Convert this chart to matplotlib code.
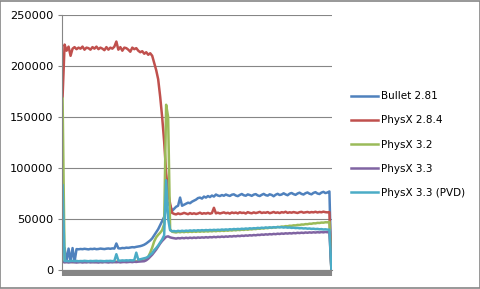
import numpy as np
import matplotlib
matplotlib.use("Agg")
import matplotlib.pyplot as plt
from matplotlib.patches import Rectangle

# frame-time samples per engine
bullet = ([20000,
           21500, 8000, 21000, 8500, 21500, 8000, 20500,
           20300, 20600, 20400, 20800, 20500, 20200, 20700, 20500, 20900, 20400,
           20600, 21000, 20700, 20500, 20900, 21100, 20800, 21200, 21000,
           26000,
           21300, 21100, 21600, 21400, 21900, 21700, 22100, 22400, 22200, 22700, 23000,
           23400, 24000, 24800, 26000, 27500, 29000, 31000, 34000, 37000, 40000, 44000, 48000, 52000,
           60000, 66000, 63000, 58000, 60000, 62000, 63000, 71000, 63000, 64000, 65000, 66000,
           65500, 67000, 68000, 69000, 70500, 71000, 70000, 72000, 71000, 72500, 71500, 73000, 72000, 74000, 73000,
           72500, 73500, 72800, 74000, 73200, 72600, 73800, 74200, 73000, 72400,
           73600, 74500, 73300, 72800, 74100, 73500, 72700, 73900, 74400, 73100,
           72500, 73700, 74600, 73400, 72900, 74200, 73600, 72300, 73800, 74700,
           73500, 74000, 75200, 74100, 73300, 74800, 75500, 74400, 73700, 75000,
           75800, 74600, 74000, 75300, 76000, 74800, 74200, 75600, 76300, 75000,
           74500, 75900, 76600, 75400, 76000, 77000,
           0])

physx284 = ([170000,
             221000, 215000, 219000, 210000, 217000, 218500, 216500, 218000, 217000, 219000,
             216000, 218000, 217500, 216000, 218500, 217000, 219000, 216500, 218000, 217000,
             215500, 218500, 216000, 218000, 217000, 219000, 224000, 216000, 218500, 215000,
             218000, 217500, 216000, 214000, 218000, 216500, 217500, 215000, 213500, 214500,
             212000, 213500, 211000, 212500,
             210000, 203000, 196000, 187000, 170000, 150000, 126000, 95000, 76000, 65000, 56000,
             55000, 54500, 55500, 54800, 55200, 56000, 55300, 54700, 55800, 55000,
             55600, 54900, 55400, 56200, 55100, 55700, 55300, 56000, 55200, 55800,
             61000, 55500, 56200, 55400, 55900, 56500, 55600, 56100, 55300, 56400,
             55800, 56300, 55500, 56600, 55900, 56200, 55400, 56700, 56000, 55600,
             56500, 55800, 56300, 57000, 55900, 56400, 56100, 56800, 55700, 56200,
             56900, 56000, 56500, 55800, 56700, 56300, 57100, 56000, 56600, 56200,
             56800, 56400, 55900, 56700, 57000, 56200, 56600, 56900, 56300, 56800,
             56500, 57100, 56400, 56900, 56600, 57200, 56700, 56500, 56800,
             0])

physx32 = ([168000,
            7800, 8100, 7900, 8200, 7700, 8000, 8300, 7900, 8100, 7800,
            8200, 7900, 8000, 8300, 7800, 8100, 7900, 8200, 8000, 7800,
            8100, 8300, 7900, 8000, 8200, 7800, 8100, 8400, 7900, 8200,
            8000, 8300, 8100, 8500, 8200, 8600, 8400, 8800, 9000, 9200,
            9500, 10500, 13000, 17000, 22000, 28000, 32000, 34500, 36500, 39000,
            45000, 162000, 150000, 40000, 37500,
            37200, 36800, 37400, 37000, 37500, 37100, 37600, 37200, 37700, 37300,
            37800, 37400, 37900, 37500, 38000, 37600, 38100, 37700, 38200, 37900,
            38400, 38000, 38500, 38200, 38700, 38300, 38800, 38500, 39000, 38700,
            39200, 38900, 39400, 39100, 39600, 39300, 39800, 39500, 40000, 39800,
            40300, 40100, 40600, 40400, 40900, 40700, 41200, 41000, 41500, 41300,
            41800, 41700, 42200, 42100, 42600, 42500, 43000, 42900, 43400, 43300,
            43800, 43700, 44200, 44100, 44600, 44500, 45000, 44900, 45400, 45300,
            45800, 45700, 46200, 46100, 46500, 46400, 46800, 46700, 47200,
            0])

physx33 = ([8000,
            7500, 7700, 7400, 7600, 7800, 7500, 7300, 7600, 7700, 7400,
            7600, 7500, 7800, 7400, 7700, 7500, 7600, 7300, 7700, 7500,
            7800, 7600, 7400, 7700, 7500, 7900, 7600, 7800, 7500, 7700,
            7900, 7600, 7800, 8000, 7700, 8100, 7900, 8200, 8300, 8400,
            8600, 9500, 11000, 13000, 15000, 17500, 20000, 23000, 26000, 28500,
            30500, 32500, 33000, 32000, 31500,
            31200, 30800, 31300, 31000, 31500, 31100, 31600, 31200, 31700, 31300,
            31800, 31400, 31900, 31600, 32000, 31700, 32200, 31800, 32300, 32000,
            32500, 32100, 32600, 32300, 32800, 32400, 32900, 32600, 33100, 32800,
            33300, 33000, 33500, 33200, 33700, 33400, 33900, 33600, 34100, 33800,
            34300, 34000, 34500, 34300, 34800, 34500, 35000, 34700, 35200, 34900,
            35400, 35100, 35600, 35300, 35800, 35500, 36000, 35700, 36100, 35800,
            36300, 36000, 36500, 36200, 36600, 36300, 36800, 36500, 36900, 36600,
            37000, 36700, 37100, 36800, 37200, 36900, 37300, 37000, 37200,
            0])

physx33_pvd = ([83000,
                8700, 8900, 8600, 8800, 9000, 8700, 8900, 8600, 8800, 8700,
                9000, 8800, 8600, 8900, 8700, 8800, 9000, 8700, 8900, 8800,
                8600, 8900, 8800, 9000, 8700, 8900,
                15500,
                9300, 9100, 9400, 9200, 9500, 9300, 9600, 9400, 9700,
                17000,
                10200, 10500, 11000, 11500, 12000, 13000, 15000, 16500, 19500, 21500,
                24000, 27000, 30000, 34000, 88000, 50000, 39000, 38000,
                38200, 37800, 38400, 38000, 38500, 38100, 38600, 38300, 38800, 38400,
                38900, 38500, 39000, 38700, 39100, 38800, 39200, 38900, 39300, 39000,
                39400, 39100, 39500, 39200, 39700, 39400, 39800, 39500, 40000, 39700,
                40200, 39900, 40300, 40000, 40500, 40200, 40700, 40400, 40900, 40600,
                41000, 40800, 41300, 41000, 41500, 41200, 41700, 41400, 41800, 41500,
                42000, 41700, 42100, 41800, 42000, 41600, 41900, 41500, 41700, 41300,
                41500, 41100, 41300, 40900, 41100, 40700, 40900, 40500, 40700, 40300,
                40500, 40100, 40300, 39900, 40100, 39700, 39900, 39600, 39500,
                0])

labels = ["Bullet 2.81", "PhysX 2.8.4", "PhysX 3.2", "PhysX 3.3", "PhysX 3.3 (PVD)"]
colors = ["#4F81BD", "#C0504D", "#9BBB59", "#8064A2", "#4BACC6"]
series = [bullet, physx284, physx32, physx33, physx33_pvd]
frames = np.arange(len(bullet))

plt.rcParams['font.family'] = ['DejaVu Sans']
fig = plt.figure(figsize=(4.81, 2.89), dpi=100)
ax = fig.add_axes([62/481, 19/289, 270/481, 255/289])

for vals, lab, col in zip(series, labels, colors):
    ax.plot(frames, vals, color=col, lw=1.8, label=lab, solid_joinstyle='round')

grid_col = '#868686'
ax.set_xlim(-0.3, len(bullet) - 0.7)
ax.set_ylim(0, 250000)
ax.set_yticks(range(0, 250001, 50000))
ax.set_yticklabels([str(v) for v in range(0, 250001, 50000)], fontsize=8.2)
ax.yaxis.grid(True, color=grid_col, lw=0.8)
ax.set_axisbelow(True)

# dense category ticks -> grey bar under the axis
ax.set_xticks(frames)
ax.set_xticklabels([])
ax.tick_params(axis='x', length=4, width=1.5, color=grid_col)
ax.tick_params(axis='y', length=3, width=0.8, color=grid_col, pad=3)

for s in ['top', 'right']:
    ax.spines[s].set_visible(False)
for s in ['left', 'bottom']:
    ax.spines[s].set_color(grid_col)
    ax.spines[s].set_linewidth(0.8)

fig.legend(loc='center left', bbox_to_anchor=(351/481, 0.5), frameon=False,
           fontsize=7.5, handlelength=2.6, handletextpad=0.3, labelspacing=1.36,
           borderpad=0, borderaxespad=0)

fig.patches.append(Rectangle((0.001, 0.002), 0.997, 0.996, transform=fig.transFigure,
                             fill=False, edgecolor=grid_col, lw=1.2))

fig.savefig("out.png", dpi=100)
